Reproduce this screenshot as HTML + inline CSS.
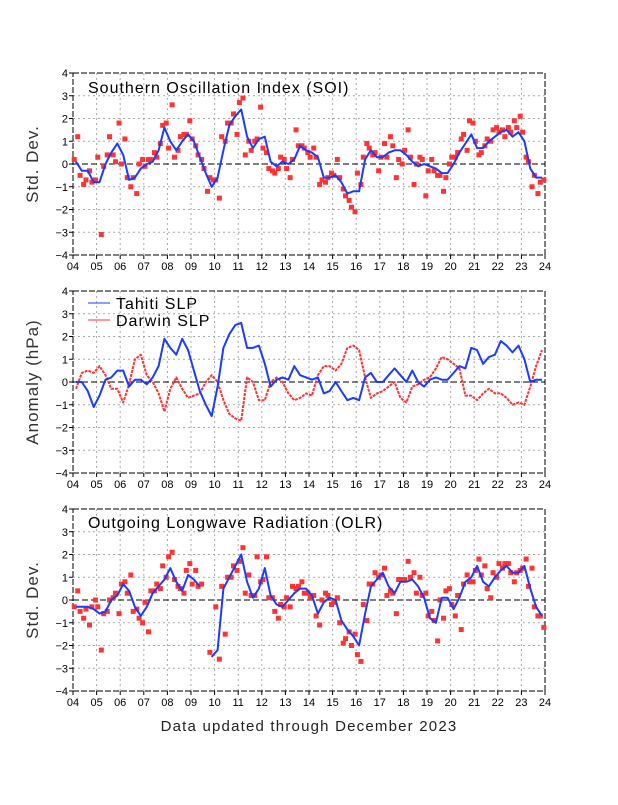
<!DOCTYPE html>
<html><head><meta charset="utf-8"><style>
body{margin:0;background:#fff;width:618px;height:800px;overflow:hidden}
svg{font-family:"Liberation Sans",sans-serif}
</style></head><body>
<svg id="chart" width="618" height="800" viewBox="0 0 618 800"></svg>
<script>
const years=["04","05","06","07","08","09","10","11","12","13","14","15","16","17","18","19","20","21","22","23","24"];
const yTicks=[4,3,2,1,0,-1,-2,-3,-4];
const soiLine=[0.1,-0.3,-0.3,-0.8,-0.8,0,0.5,0.9,0.4,-0.7,-0.6,-0.2,0,0.1,0.6,1.6,1.0,0.6,1.0,1.3,1.0,0.3,-0.4,-1.0,-0.6,0.6,1.7,2.1,2.4,1.2,0.7,1.1,1.2,0.1,-0.1,0.1,0,0.2,0.8,0.6,0.5,0.3,-0.6,-0.6,-0.5,-0.8,-1.3,-1.2,-1.2,0.2,0.6,0.3,0.3,0.5,0.6,0.6,0.4,0.1,-0.1,0,-0.1,-0.2,-0.4,-0.4,0,0.5,0.9,1.3,0.7,0.7,1.0,1.2,1.4,1.5,1.2,1.4,1.0,-0.2,-0.6,-0.6];
const soiDots=[1.2,-0.9,-0.3,-0.7,-3.1,0.4,0.4,1.8,1.1,-1.0,-1.3,0.2,0.2,0.5,0.9,1.8,2.6,0.6,1.3,1.9,0.8,0.2,-1.2,-0.7,-1.5,1.0,1.8,1.3,2.9,1.0,1.0,2.5,0.5,-0.3,-0.2,0.2,-0.6,1.5,0.8,0.5,0.7,-0.9,-0.8,-0.4,0.2,-1.1,-1.6,-2.1,-0.9,0.9,0.4,-0.3,0.9,1.2,-0.6,0.0,1.5,-0.9,0.3,-1.4,0.2,-0.5,-1.2,0.0,0.3,1.1,0.6,1.8,0.4,0.8,1.0,1.6,1.5,1.6,1.9,2.1,0.3,-1.0,-1.3,-0.7];
const soiDots2=[0.2,-0.5,-0.7,-0.8,0.3,-0.1,1.2,0.1,0.0,-0.6,-0.6,0.0,-0.1,0.2,0.3,1.7,0.7,0.3,1.2,1.3,1.1,0.4,-0.2,-0.6,-0.7,1.2,1.8,2.2,2.7,0.4,0.6,1.1,0.7,-0.2,-0.4,0.3,-0.2,0.2,0.8,0.7,0.3,0.3,-0.7,-0.6,-0.5,-0.6,-1.4,-1.9,-0.4,0.3,0.7,0.5,0.3,0.3,0.8,0.2,0.6,0.3,0.0,0.2,-0.3,-0.3,-0.5,-0.6,0.3,0.5,1.3,1.9,1.0,0.5,1.1,1.5,1.4,1.2,1.4,1.6,1.4,0.1,-0.5,-0.8];
const tahiti=[0,0,-0.4,-1.1,-0.6,0.1,0.2,0.5,0.5,-0.2,0.1,0.1,-0.1,0.2,0.7,1.9,1.5,1.2,1.9,1.4,0.5,-0.4,-1.0,-1.5,-0.2,1.5,2.1,2.5,2.6,1.5,1.5,1.6,0.8,-0.2,0.1,0.2,0.1,0.7,0.3,0.2,0.1,0.2,-0.5,-0.4,0,-0.4,-0.8,-0.7,-0.8,0.2,0.4,0,0,0.3,0.6,0.3,0,0.5,0,-0.2,0.1,0.2,0.1,0.1,0.4,0.7,0.6,1.5,1.4,0.8,1.1,1.2,1.8,1.6,1.3,1.6,1.0,0,0.1,0.1];
const darwin=[-0.3,0.4,0.5,0.4,0.7,0.3,-0.3,-0.3,-0.9,-0.1,1.0,1.2,0.3,0,-0.5,-1.3,-0.3,0.2,-0.3,-0.7,-0.6,-0.5,0,0.3,0,-0.8,-1.4,-1.6,-1.7,0.2,0,-0.8,-0.8,0,0.2,0,-0.5,-0.8,-0.7,-0.5,-0.6,0.3,0.7,0.7,0.5,0.8,1.5,1.6,1.4,0.2,-0.7,-0.5,-0.4,-0.2,0,-0.7,-0.9,-0.2,-0.1,0.1,0.2,0.6,1.1,1.0,0.8,0.6,-0.6,-0.6,-0.8,-0.5,-0.3,-0.5,-0.5,-0.7,-1.0,-0.9,-1.0,-0.2,0.7,1.4];
const olrLine=[-0.3,-0.3,-0.3,-0.4,-0.6,-0.5,0,0.2,0.7,0.4,-0.3,-0.7,-0.3,0.3,0.6,0.9,1.4,0.8,0.4,1.1,0.9,0.6,null,-2.5,-2.2,0.5,1.0,1.5,2.0,0.8,0.1,0.5,1.4,0.2,-0.2,-0.3,0,0.3,0.5,0.5,0.2,-0.6,-0.1,0.1,0,-0.9,-1.3,-1.6,-2.0,-0.6,0.6,0.9,1.2,0.6,0.3,0.8,0.8,0.9,0.6,0.1,-0.8,-1.0,0.1,0.1,-0.4,0.1,0.8,1.0,1.5,0.8,0.6,1.0,1.3,1.5,1.2,1.2,1.5,0.5,-0.3,-0.7];
const olrDots=[0.4,-0.8,-1.1,0.0,-2.2,-0.5,0.1,-0.6,0.8,1.1,-0.4,-1.0,-1.4,0.4,0.5,1.0,2.1,0.6,0.3,1.6,1.3,0.7,null,null,-2.6,-1.5,1.0,1.3,2.3,1.1,0.2,0.8,1.9,0.1,-0.8,-0.3,-0.3,0.5,0.8,0.3,0.2,-1.1,0.3,-0.2,0.1,-1.9,-1.4,-1.5,-2.7,-0.9,0.7,1.0,1.4,0.4,-0.6,0.9,1.7,1.2,1.0,0.3,-0.5,-1.8,-0.8,0.5,-0.7,-1.3,1.1,0.8,1.8,1.5,0.1,1.0,1.4,1.6,0.8,1.3,1.8,1.4,-0.7,-1.2];
const olrDots2=[-0.3,-0.5,-0.4,-0.3,-0.3,-0.6,0.0,0.3,0.7,0.3,-0.5,-0.8,-0.1,0.4,0.7,1.5,1.9,0.9,0.5,1.3,0.7,0.6,null,-2.3,-0.3,0.6,1.0,1.5,1.7,0.3,0.2,1.9,0.9,0.1,-0.5,-0.2,0.1,0.6,0.6,0.3,0.1,-0.7,0.0,0.2,-0.1,-1.0,-1.7,-2.0,-2.4,-0.2,0.7,1.2,1.1,0.2,0.3,0.9,0.9,1.0,0.3,0.2,-0.7,-0.9,0.0,0.4,-0.2,0.2,0.7,0.8,1.3,1.1,0.5,1.2,1.6,1.6,1.2,1.2,1.4,0.6,-0.3,-0.7];

const NS='http://www.w3.org/2000/svg';
const svg=document.getElementById('chart');
const L=73,R=545,H=182;
function el(tag,attrs,parent){const e=document.createElementNS(NS,tag);for(const k in attrs)e.setAttribute(k,attrs[k]);(parent||svg).appendChild(e);return e;}
function xs(t){return L+t*(R-L)/20;}
function panel(top,name){
  const g=el('g',{});
  
  
  const ys=v=>top+(4-v)*H/8;
  years.forEach((y,i)=>{
    if(i>0&&i<20){const ln=el('line',{x1:xs(i),x2:xs(i),y1:top,y2:top+H,stroke:'#aaa','stroke-dasharray':'2,3','stroke-width':1},g);
    }
    const tk=el('line',{x1:xs(i),x2:xs(i),y1:top+H,y2:top+H+4,stroke:'#000'},g);
    
    const tx=el('text',{x:xs(i),y:top+H+15,'text-anchor':'middle','font-size':11},g);tx.textContent=y;
    
  });
  yTicks.forEach(v=>{
    if(v!==4&&v!==-4&&v!==0){const ln=el('line',{x1:L,x2:R,y1:ys(v),y2:ys(v),stroke:'#aaa','stroke-dasharray':'2,3'},g);
    }
    const tk=el('line',{x1:L-4,x2:L,y1:ys(v),y2:ys(v),stroke:'#000'},g);
    
    const tx=el('text',{x:L-5,y:ys(v)+4,'text-anchor':'end','font-size':11},g);tx.textContent=(v<0?'\u2212':'')+Math.abs(v);
    
  });
  const z=el('line',{x1:L,x2:R,y1:ys(0),y2:ys(0),stroke:'#000','stroke-dasharray':'6,3'},g);
  
  const b=el('rect',{x:L,y:top,width:R-L,height:H,fill:'none',stroke:'#000','stroke-dasharray':'6,2'},g);
  
  return {g,ys};
}
function line(p,arr,color,name,dash){
  let d='',pen=false;
  arr.forEach((v,i)=>{if(v===null){pen=false;return;}const x=xs(i*0.25+0.125),y=p.ys(v);d+=(pen?'L':'M')+x.toFixed(1)+','+y.toFixed(1);pen=true;});
  const a={d,fill:'none',stroke:color,'stroke-width':2,'stroke-linejoin':'round'};
  if(dash)a['stroke-dasharray']=dash;
  const pth=el('path',a,p.g);
  
}
function dots(p,arr,name,off){
  arr.forEach((v,i)=>{if(v===null)return;
    const r=el('rect',{x:xs(i*0.25+off)-2.5,y:p.ys(v)-2.5,width:5,height:5,fill:'#f33'},p.g);
    });
}
function ytitle(x,y,txt){const t=el('text',{x,y,'text-anchor':'middle','font-size':17,'letter-spacing':1,fill:'#333',transform:`rotate(-90 ${x} ${y})`});t.textContent=txt;}
function title(x,y,txt){const t=el('text',{x,y,'font-size':16,'letter-spacing':1});t.textContent=txt;}

const p1=panel(73,'soi-panel');
dots(p1,soiDots,'soi-monthly-point',0.2);dots(p1,soiDots2,'soi-monthly-point',0.05);
line(p1,soiLine,'#1a3cff','soi-smoothed-line');
title(88,93,'Southern Oscillation Index (SOI)');ytitle(38,164,'Std. Dev.');

const p2=panel(291,'slp-panel');
line(p2,darwin,'#f33','darwin-slp-line','3,1');line(p2,tahiti,'#1a3cff','tahiti-slp-line');
ytitle(38,382,'Anomaly (hPa)');
let lg=el('line',{x1:88,x2:110,y1:303,y2:303,stroke:'#1a3cff','stroke-width':1});
let lt=el('text',{x:116,y:309,'font-size':16,'letter-spacing':1});lt.textContent='Tahiti SLP';
lg=el('line',{x1:88,x2:110,y1:320,y2:320,stroke:'#f33','stroke-width':1});
lt=el('text',{x:116,y:326,'font-size':16,'letter-spacing':1});lt.textContent='Darwin SLP';

const p3=panel(509,'olr-panel');
dots(p3,olrDots,'olr-monthly-point',0.2);dots(p3,olrDots2,'olr-monthly-point',0.05);
line(p3,olrLine,'#1a3cff','olr-smoothed-line');
title(88,528,'Outgoing Longwave Radiation (OLR)');ytitle(38,600,'Std. Dev.');

const ft=el('text',{x:309,y:731,'text-anchor':'middle','font-size':15,'letter-spacing':1.2,fill:'#222'});
ft.textContent='Data updated through December 2023';


</script>
</body></html>
